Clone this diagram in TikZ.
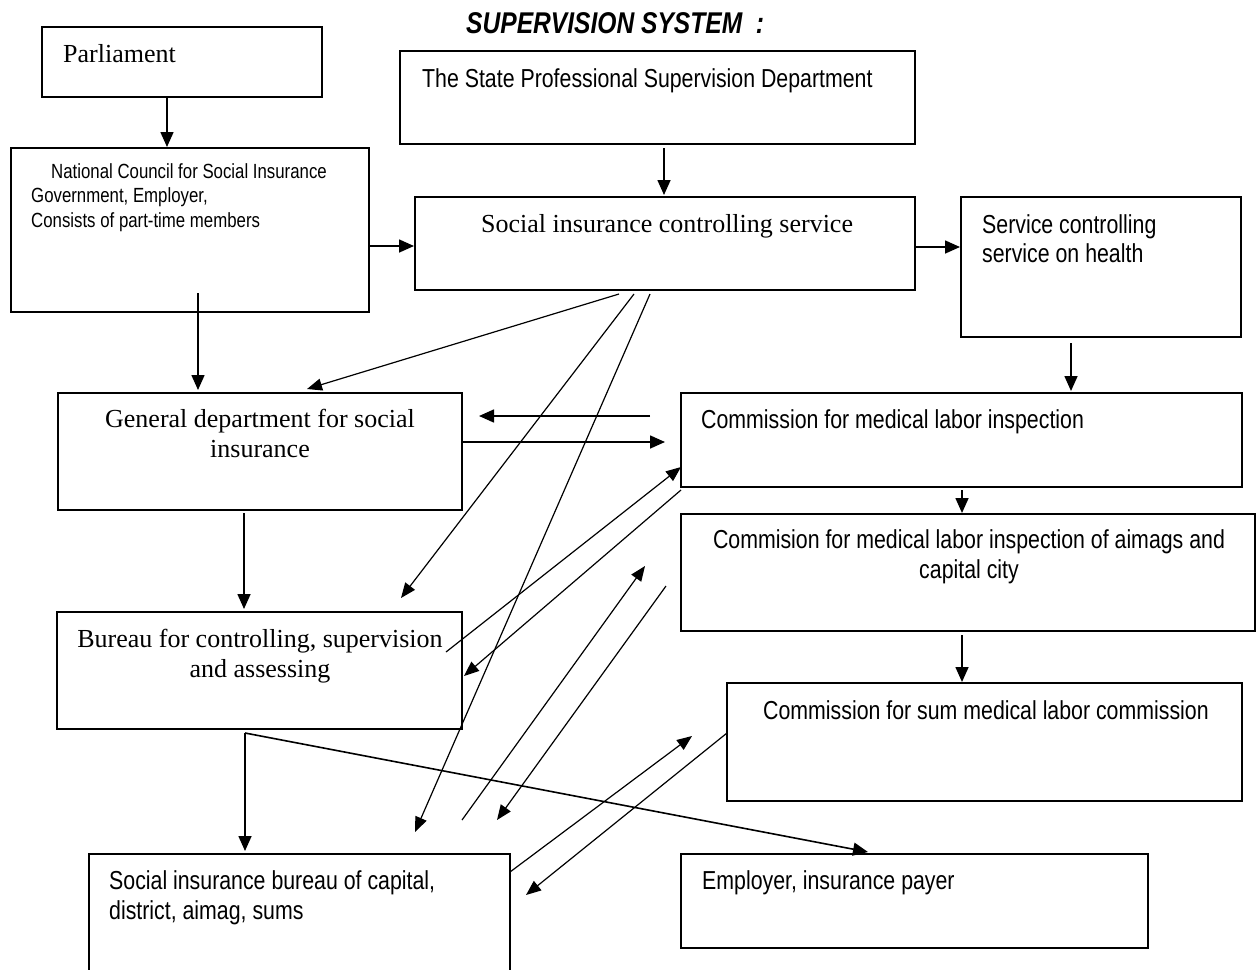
\documentclass[tikz,border=0pt]{standalone}
\usepackage{fontspec}
\setmainfont{Liberation Serif}
\newfontfamily\arn[FakeStretch=0.82]{Liberation Sans}
\usetikzlibrary{arrows.meta}
\tikzset{
  box/.style={draw, line width=1.8pt, inner sep=0pt, outer sep=0pt, anchor=north west},
  arr/.style={line width=1.6pt, -{Triangle[length=15pt,width=13pt]}},
  thin arr/.style={line width=1.2pt, -{Triangle[length=15pt,width=12pt]}},
  sf/.style={inner sep=0pt, font=\arn\fontsize{26}{30}\selectfont},
  sfsmall/.style={inner sep=0pt, font=\arn\fontsize{20.5}{24}\selectfont},
  rm/.style={inner sep=0pt, font=\fontsize{26}{30}\selectfont},
  ttl/.style={inner sep=0pt, font=\arn\bfseries\itshape\fontsize{30}{34}\selectfont}
}
\begin{document}
\begin{tikzpicture}[x=1pt,y=-1pt]
\useasboundingbox (0,0) rectangle (1257,969);
\clip (0,0) rectangle (1257,969);
% title
\node[ttl, anchor=base west] (title) at (466,33) {SUPERVISION SYSTEM\ \ :};
% boxes
\node[box, minimum width=280, minimum height=70] (parl) at (42,27) {};
\node[box, minimum width=358, minimum height=164] (ncsi) at (11,148) {};
\node[box, minimum width=515, minimum height=93] (state) at (400,51) {};
\node[box, minimum width=500, minimum height=93] (sics) at (415,197) {};
\node[box, minimum width=280, minimum height=140] (sch) at (961,197) {};
\node[box, minimum width=404, minimum height=117] (gdsi) at (58,393) {};
\node[box, minimum width=561, minimum height=94] (cmli) at (681,393) {};
\node[box, minimum width=574, minimum height=117] (cmlia) at (681,514) {};
\node[box, minimum width=405, minimum height=117] (bcsa) at (57,612) {};
\node[box, minimum width=515, minimum height=118] (csml) at (727,683) {};
\node[box, minimum width=421, minimum height=130] (sibc) at (89,854) {};
\node[box, minimum width=467, minimum height=94] (emp) at (681,854) {};
% texts
\node[rm, anchor=base west] (tparl) at (63,62) {Parliament};
\node[sfsmall, anchor=base west] (tncsi1) at (51,178) {National Council for Social Insurance};
\node[sfsmall, anchor=base west] (tncsi2) at (31,202.5) {Government, Employer,};
\node[sfsmall, anchor=base west] (tncsi3) at (31,227) {Consists of part-time members};
\node[sf, anchor=base west] (tstate) at (422,87) {The State Professional Supervision Department};
\node[rm, anchor=base west] (tsics) at (481,232) {Social insurance controlling service};
\node[sf, anchor=base west] (tsch1) at (982,233) {Service controlling};
\node[sf, anchor=base west] (tsch2) at (982,262) {service on health};
\node[rm, anchor=base] (tgdsi1) at (260,427) {General department for social};
\node[rm, anchor=base] (tgdsi2) at (260,457) {insurance};
\node[sf, anchor=base west] (tcmli) at (701,428) {Commission for medical labor inspection};
\node[sf, anchor=base] (tcmlia1) at (969,548) {Commision for medical labor inspection of aimags and};
\node[sf, anchor=base] (tcmlia2) at (969,578) {capital city};
\node[rm, anchor=base] (tbcsa1) at (260,647) {Bureau for controlling, supervision};
\node[rm, anchor=base] (tbcsa2) at (260,677) {and assessing};
\node[sf, anchor=base west] (tcsml) at (763,719) {Commission for sum medical labor commission};
\node[sf, anchor=base west] (tsibc1) at (109,889) {Social insurance bureau of capital,};
\node[sf, anchor=base west] (tsibc2) at (109,919) {district, aimag, sums};
\node[sf, anchor=base west] (temp) at (702,889) {Employer, insurance payer};
% connector end points
\coordinate (p1) at (167,97);   \coordinate (p2) at (167,147);
\coordinate (s1) at (664,148);  \coordinate (s2) at (664,195);
\coordinate (n1) at (369,246);  \coordinate (n2) at (414,246);
\coordinate (c1) at (915,247);  \coordinate (c2) at (960,247);
\coordinate (n3) at (198,293);  \coordinate (n4) at (198,390);
\coordinate (h1) at (1071,343); \coordinate (h2) at (1071,391);
\coordinate (d1) at (619,294);  \coordinate (d2) at (307,389);
\coordinate (d3) at (634,294);  \coordinate (d4) at (401,598);
\coordinate (d5) at (650,294);  \coordinate (d6) at (415,832);
\coordinate (m1) at (650,416);  \coordinate (m2) at (479,416);
\coordinate (g1) at (462,442);  \coordinate (g2) at (665,442);
\coordinate (b1) at (446,652);  \coordinate (b2) at (681,467);
\coordinate (m3) at (681,490);  \coordinate (m4) at (464,676);
\coordinate (m5) at (962,490);  \coordinate (m6) at (962,513);
\coordinate (a1) at (962,635);  \coordinate (a2) at (962,682);
\coordinate (g3) at (244,513);  \coordinate (g4) at (244,609);
\coordinate (b3) at (245,733);  \coordinate (b4) at (245,851);
\coordinate (e1) at (868,852);
\coordinate (u1) at (462,820);  \coordinate (u2) at (645,566);
\coordinate (u3) at (666,586);  \coordinate (u4) at (497,820);
\coordinate (v1) at (510,872);  \coordinate (v2) at (692,736);
\coordinate (v3) at (727,733);  \coordinate (v4) at (526,895);
% connectors
\draw[arr] (p1) -- (p2);
\draw[arr] (s1) -- (s2);
\draw[arr] (n1) -- (n2);
\draw[arr] (c1) -- (c2);
\draw[arr] (n3) -- (n4);
\draw[arr] (h1) -- (h2);
\draw[thin arr] (d1) -- (d2);
\draw[thin arr] (d3) -- (d4);
\draw[thin arr] (d5) -- (d6);
\draw[arr] (m1) -- (m2);
\draw[arr] (g1) -- (g2);
\draw[thin arr] (b1) -- (b2);
\draw[thin arr] (m3) -- (m4);
\draw[arr] (m5) -- (m6);
\draw[arr] (a1) -- (a2);
\draw[arr] (g3) -- (g4);
\draw[arr] (b3) -- (b4);
\draw[arr] (b3) -- (e1);
\draw[thin arr] (u1) -- (u2);
\draw[thin arr] (u3) -- (u4);
\draw[thin arr] (v1) -- (v2);
\draw[thin arr] (v3) -- (v4);
\end{tikzpicture}
\end{document}
